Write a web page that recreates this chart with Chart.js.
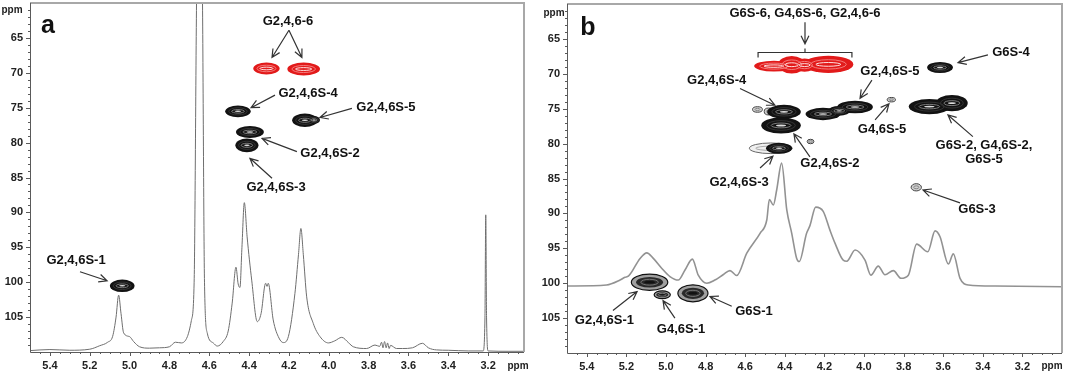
<!DOCTYPE html>
<html>
<head>
<meta charset="utf-8">
<script src="https://cdn.jsdelivr.net/npm/chart.js@4.4.1/dist/chart.umd.min.js"></script>
<style>
  html, body { margin: 0; padding: 0; background: #fff; }
  #wrap { position: relative; width: 1065px; height: 374px; }
  canvas { position: absolute; top: 0; }
  #cA { left: 0; }
  #cB { left: 532px; }
</style>
</head>
<body>
<div id="wrap">
  <canvas id="cA" width="532" height="374"></canvas>
  <canvas id="cB" width="533" height="374"></canvas>
</div>
<script>
/* --------- 軸の目盛り --------- */
const xTicks = [5.4, 5.2, 5.0, 4.8, 4.6, 4.4, 4.2, 4.0, 3.8, 3.6, 3.4, 3.2];
const yTicks = [65, 70, 75, 80, 85, 90, 95, 100, 105];

/* --------- パネル a : 1H スペクトル (ppm / 相対強度) --------- */
const specA_ppm = [5.50, 5.40, 5.30, 5.20, 5.15, 5.11, 5.085, 5.068, 5.055, 5.043, 5.03, 5.00, 4.98, 4.95, 4.90,
  4.85, 4.80, 4.77, 4.74, 4.71, 4.69, 4.676, 4.664, 4.649, 4.634, 4.624, 4.61, 4.58, 4.56, 4.53, 4.505, 4.485,
  4.466, 4.455, 4.446, 4.436, 4.424, 4.41, 4.387, 4.359, 4.34, 4.317, 4.31, 4.304, 4.279, 4.25, 4.228, 4.203,
  4.17, 4.152, 4.14, 4.128, 4.111, 4.078, 4.044, 4.002, 3.97, 3.935, 3.90, 3.877, 3.81, 3.768, 3.745, 3.735,
  3.728, 3.72, 3.712, 3.705, 3.697, 3.69, 3.66, 3.63, 3.58, 3.53, 3.50, 3.46, 3.40, 3.30, 3.225, 3.216, 3.212,
  3.208, 3.20, 3.10, 3.02];
const specA_int = [0.4, 0.7, 0.5, 0.8, 1.8, 2.8, 4.5, 10, 16.3, 11, 5.5, 4.4, 3.0, 1.5, 1.1,
  1.2, 1.5, 2.8, 2.6, 4.4, 9, 20, 100, 170, 100, 20, 5.4, 2.6, 1.7, 3.0, 6, 14,
  24.3, 19.5, 18.5, 30, 42.8, 33, 20.6, 8.7, 11, 19.7, 18.8, 19.7, 9.2, 4, 2.7, 4.4,
  16.8, 28, 35.4, 28, 15.8, 8.2, 4.4, 2.6, 3.2, 4.2, 2.6, 1.5, 1.0, 2.0, 1.6, 2.8,
  1.2, 3.0, 1.2, 2.6, 1.0, 1.9, 1.0, 1.0, 1.2, 2.5, 1.2, 0.6, 0.5, 0.3, 0.3, 10, 39.3,
  10, 0.3, 0.2, 0.2];

/* --------- パネル b : 1H スペクトル --------- */
const specB_ppm = [5.50, 5.30, 5.232, 5.207, 5.19, 5.131, 5.097, 5.064, 5.022, 4.98, 4.938, 4.904, 4.867, 4.837,
  4.794, 4.753, 4.71, 4.677, 4.643, 4.592, 4.525, 4.491, 4.478, 4.458, 4.441, 4.416, 4.39, 4.365, 4.34, 4.327,
  4.29, 4.273, 4.244, 4.206, 4.172, 4.146, 4.105, 4.087, 4.045, 3.995, 3.965, 3.928, 3.894, 3.852, 3.813,
  3.776, 3.734, 3.678, 3.641, 3.616, 3.574, 3.549, 3.515, 3.473, 3.338, 3.0];
const specB_int = [19.2, 19.5, 20.9, 21.7, 22.0, 27.1, 28.7, 27.1, 24.3, 21.9, 20.9, 23.8, 26.9, 22.3,
  20.0, 20.9, 22.5, 23.6, 22.2, 28.6, 34.3, 38.1, 44.0, 42.4, 46.7, 54.4, 41, 34.3, 27.1, 26.2,
  34.3, 36.5, 41.8, 40.6, 35.2, 31.4, 26.6, 26.3, 29.5, 26.6, 22.3, 24.9, 22.4, 23.6, 21.4,
  22.3, 31.2, 29.0, 35.0, 33.3, 25.5, 28.4, 21.4, 19.5, 19.2, 19.0];

/* --------- 2D 相関ピーク (1H ppm, 13C ppm, 半幅 H, 半幅 C, 種別) --------- */
const peakA_h    = [4.313, 4.126, 4.456, 4.120, 4.074, 4.396, 4.411, 5.037];
const peakA_c    = [69.38, 69.46, 75.52, 76.80, 76.75, 78.48, 80.39, 100.52];
const peakA_wh   = [0.066, 0.082, 0.064, 0.064, 0.030, 0.070, 0.058, 0.062];
const peakA_wc   = [0.85, 0.92, 0.85, 0.98, 0.55, 0.85, 0.98, 0.90];
const peakA_type = ["ch2", "ch2", "ch", "ch", "ch", "ch", "ch", "ch"];

const peakB_h    = [4.538, 4.482, 4.471, 4.270, 3.862, 3.736,
  4.455, 4.365, 4.300, 4.180,
  4.404, 4.419, 4.429, 4.207, 4.125, 4.045, 3.670, 3.556, 3.616,
  5.083, 5.019, 4.864];
const peakB_c    = [75.11, 75.40, 80.67, 79.70, 73.71, 86.26,
  68.90, 68.70, 68.75, 68.65,
  75.45, 77.40, 80.67, 75.76, 75.30, 74.76, 74.70, 74.20, 69.10,
  99.86, 101.65, 101.45];
const peakB_wh   = [0.025, 0.022, 0.108, 0.017, 0.021, 0.026,
  0.100, 0.068, 0.055, 0.126,
  0.085, 0.100, 0.066, 0.088, 0.055, 0.090, 0.104, 0.080, 0.065,
  0.092, 0.041, 0.076];
const peakB_wc   = [0.40, 0.50, 0.76, 0.32, 0.32, 0.52,
  0.78, 1.25, 0.95, 1.22,
  1.00, 1.15, 0.78, 0.88, 0.70, 0.90, 1.08, 1.18, 0.80,
  1.16, 0.56, 1.22];
const peakB_type = ["weak", "weak", "pale", "weak", "weak", "weak",
  "ch2", "ch2", "ch2", "ch2",
  "ch", "ch", "ch", "ch", "ch", "ch", "ch", "ch", "ch",
  "ring", "ring", "ring"];

/* --------- 帰属ラベル (ラベル中心の 1H / 13C 位置) --------- */
const notesA = [
  { text: "G2,4,6-6", h: 4.205, c: 62.6 },
  { text: "G2,4,6S-4", h: 4.104, c: 72.9 },
  { text: "G2,4,6S-5", h: 3.713, c: 75.0 },
  { text: "G2,4,6S-2", h: 3.994, c: 81.6 },
  { text: "G2,4,6S-3", h: 4.265, c: 86.4 },
  { text: "G2,4,6S-1", h: 5.269, c: 96.9 },
];
const arrowsA = [
  [4.20, 63.9, 4.285, 67.8],
  [4.20, 63.9, 4.135, 67.8],
  [4.27, 73.2, 4.39, 75.0],
  [3.884, 75.1, 4.044, 76.4],
  [4.16, 81.3, 4.335, 79.4],
  [4.285, 85.1, 4.396, 82.25],
  [5.249, 98.5, 5.113, 99.8],
];

const notesB = [
  { text: "G6S-6, G4,6S-6, G2,4,6-6", h: 4.298, c: 61.3 },
  { text: "G2,4,6S-4", h: 4.744, c: 71.0 },
  { text: "G2,4,6S-5", h: 3.869, c: 69.6 },
  { text: "G6S-4", h: 3.258, c: 67.0 },
  { text: "G4,6S-5", h: 3.909, c: 77.9 },
  { text: "G6S-2, G4,6S-2,", h: 3.394, c: 80.3 },
  { text: "G6S-5", h: 3.394, c: 82.3 },
  { text: "G2,4,6S-2", h: 4.172, c: 82.8 },
  { text: "G2,4,6S-3", h: 4.631, c: 85.5 },
  { text: "G6S-3", h: 3.429, c: 89.5 },
  { text: "G2,4,6S-1", h: 5.311, c: 105.4 },
  { text: "G4,6S-1", h: 4.924, c: 106.6 },
  { text: "G6S-1", h: 4.556, c: 104.05 },
];
const arrowsB = [
  [4.298, 62.6, 4.298, 65.7],
  [4.626, 72.1, 4.45, 74.5],
  [3.96, 70.9, 4.02, 73.5],
  [3.374, 67.3, 3.525, 68.4],
  [3.944, 76.6, 3.874, 74.3],
  [3.45, 79.0, 3.576, 75.9],
  [4.273, 81.9, 4.354, 78.6],
  [4.525, 83.5, 4.46, 81.8],
  [3.515, 88.5, 3.702, 86.65],
  [5.268, 103.9, 5.146, 101.2],
  [4.955, 105.0, 5.015, 102.5],
  [4.668, 103.3, 4.778, 101.9],
];
// CH2 ブラケット: H 左端, H 右端, C 位置
const bracketB = [4.535, 4.061, 66.9];

/* --------- 描画ヘルパー --------- */
const FONT = '"Liberation Sans", Arial, sans-serif';

function ell(ctx, x, y, rx, ry) {
  ctx.beginPath();
  ctx.ellipse(x, y, Math.max(rx, 0.5), Math.max(ry, 0.5), 0, 0, Math.PI * 2);
}

// 種別ごとの塗り
const peakLayers = {
  ch2: (ctx, x, y, rx, ry) => {
    ctx.fillStyle = "#e21a1a"; ell(ctx, x, y, rx, ry); ctx.fill();
  },
  ch: (ctx, x, y, rx, ry) => {
    ctx.fillStyle = "#121212"; ell(ctx, x, y, rx, ry); ctx.fill();
  },
  ring: (ctx, x, y, rx, ry) => {
    ctx.fillStyle = "#a0a0a0"; ell(ctx, x, y, rx, ry); ctx.fill();
    ctx.strokeStyle = "#111"; ctx.lineWidth = 1.2; ctx.stroke();
    ctx.fillStyle = "#2a2a2a"; ell(ctx, x, y, rx * 0.74, ry * 0.66); ctx.fill();
    ctx.strokeStyle = "#777"; ctx.lineWidth = 1; ell(ctx, x, y, rx * 0.48, ry * 0.36); ctx.stroke();
    ctx.fillStyle = "#111"; ell(ctx, x, y, rx * 0.3, ry * 0.15); ctx.fill();
  },
  weak: (ctx, x, y, rx, ry) => {
    ctx.fillStyle = "#cfcfcf"; ell(ctx, x, y, rx, ry); ctx.fill();
    ctx.strokeStyle = "#444"; ctx.lineWidth = 1; ctx.stroke();
    ctx.strokeStyle = "#888"; ell(ctx, x, y, rx * 0.5, ry * 0.4); ctx.stroke();
  },
  pale: (ctx, x, y, rx, ry) => {
    ctx.fillStyle = "#f0f0f0"; ell(ctx, x, y, rx, ry); ctx.fill();
    ctx.strokeStyle = "#666"; ctx.lineWidth = 1; ctx.stroke();
    ctx.strokeStyle = "#aaa"; ell(ctx, x, y, rx * 0.7, ry * 0.4); ctx.stroke();
  },
};

// 内側の等高線 (塗りの後にまとめて描く)
function drawInner(ctx, x, y, rx, ry, type) {
  if (type === "ch2") {
    ctx.strokeStyle = "#f47a7a"; ctx.lineWidth = 1; ell(ctx, x, y, rx * 0.72, ry * 0.55); ctx.stroke();
    ctx.strokeStyle = "#ffe0e0"; ell(ctx, x, y, rx * 0.5, ry * 0.22); ctx.stroke();
  } else if (type === "ch") {
    ctx.strokeStyle = "#333"; ctx.lineWidth = 1; ell(ctx, x, y, rx * 0.72, ry * 0.6); ctx.stroke();
    ctx.strokeStyle = "#7a7a7a"; ell(ctx, x, y, rx * 0.5, ry * 0.3); ctx.stroke();
    ctx.fillStyle = "#dcdcdc"; ell(ctx, x, y, rx * 0.25, ry * 0.12); ctx.fill();
  }
}

function drawArrow(ctx, x1, y1, x2, y2) {
  const a = Math.atan2(y2 - y1, x2 - x1);
  const L = 9, s = 0.45;
  ctx.beginPath();
  ctx.moveTo(x1, y1); ctx.lineTo(x2, y2);
  ctx.moveTo(x2 - L * Math.cos(a - s), y2 - L * Math.sin(a - s));
  ctx.lineTo(x2, y2);
  ctx.lineTo(x2 - L * Math.cos(a + s), y2 - L * Math.sin(a + s));
  ctx.stroke();
}

/* --------- オーバーレイ (枠・目盛り・ピーク・ラベル) --------- */
function makeOverlay(cfg) {
  return {
    id: "hsqcOverlay",
    afterDatasetsDraw(chart) {
      const { ctx, chartArea: ca, scales } = chart;
      const sx = scales.x, sy = scales.y;
      const px = (v) => sx.getPixelForValue(v);
      const py = (v) => sy.getPixelForValue(v);
      ctx.save();

      // 枠
      ctx.strokeStyle = "#a8a8a8"; ctx.lineWidth = 2;
      ctx.beginPath();
      ctx.moveTo(ca.left, ca.top); ctx.lineTo(ca.right, ca.top); ctx.lineTo(ca.right, ca.bottom);
      ctx.stroke();
      ctx.strokeStyle = "#5a5a5a"; ctx.lineWidth = 1;
      ctx.beginPath();
      ctx.moveTo(ca.left + 0.5, ca.top); ctx.lineTo(ca.left + 0.5, ca.bottom + 0.5); ctx.lineTo(ca.right, ca.bottom + 0.5);
      ctx.stroke();

      // 目盛り線
      ctx.beginPath();
      for (let c = 61; c < 110; c++) {
        const len = c % 5 === 0 ? 4 : 2;
        const y = Math.round(py(c)) + 0.5;
        ctx.moveTo(ca.left, y); ctx.lineTo(ca.left - len, y);
      }
      for (let k = 1; k <= 50; k++) {
        const h = 5.5 - k * 0.05;
        if (h <= sx.min) break;
        const len = k % 4 === 2 ? 4 : 2;
        const x = Math.round(px(h)) + 0.5;
        ctx.moveTo(x, ca.bottom); ctx.lineTo(x, ca.bottom + len);
      }
      ctx.stroke();

      // 2D ピーク: 外形を先に、内側の等高線を後に
      const geo = cfg.ph.map((h, i) => {
        const x = px(h), y = py(cfg.pc[i]);
        return [x, y, Math.abs(px(h + cfg.wh[i]) - x), Math.abs(py(cfg.pc[i] + cfg.wc[i]) - y), cfg.pt[i]];
      });
      geo.forEach((g) => { ctx.save(); peakLayers[g[4]](ctx, g[0], g[1], g[2], g[3]); ctx.restore(); });
      geo.forEach((g) => { ctx.save(); drawInner(ctx, g[0], g[1], g[2], g[3], g[4]); ctx.restore(); });

      // 矢印
      ctx.strokeStyle = "#333"; ctx.lineWidth = 1.2;
      cfg.arrows.forEach((a) => drawArrow(ctx, px(a[0]), py(a[1]), px(a[2]), py(a[3])));
      if (cfg.bracket) {
        const [h1, h2, c] = cfg.bracket;
        const y = Math.round(py(c)) + 0.5, x1 = px(h1), x2 = px(h2), xm = (x1 + x2) / 2;
        ctx.beginPath();
        ctx.moveTo(x1, y + 5); ctx.lineTo(x1, y); ctx.lineTo(x2, y); ctx.lineTo(x2, y + 5);
        ctx.moveTo(xm, y); ctx.lineTo(xm, y - 4);
        ctx.stroke();
      }

      // ラベル
      ctx.fillStyle = "#111";
      ctx.textAlign = "center"; ctx.textBaseline = "middle";
      ctx.font = "bold 13px " + FONT;
      cfg.notes.forEach((n) => ctx.fillText(n.text, px(n.h), py(n.c)));
      ctx.font = "bold 25px " + FONT;
      ctx.fillText(cfg.letter, px(cfg.letterAt[0]), py(cfg.letterAt[1]));

      // 軸単位
      ctx.font = "bold 10px " + FONT;
      ctx.fillStyle = "#222";
      ctx.fillText("ppm", ca.left + cfg.ppmTop[0], ca.top + cfg.ppmTop[1]);
      ctx.fillText("ppm", ca.right + cfg.ppmBot[0], ca.bottom + cfg.ppmBot[1]);
      ctx.restore();
    },
  };
}

/* --------- チャート生成 --------- */
function zeroPad(s) {
  s.paddingTop = 0; s.paddingBottom = 0; s.paddingLeft = 0; s.paddingRight = 0;
}

function makeChart(id, cfg) {
  const tickFont = { family: FONT, size: 11, weight: "bold" };
  return new Chart(document.getElementById(id), {
    type: "line",
    data: {
      datasets: [{
        data: cfg.ppm.map((p, i) => ({ x: p, y: cfg.inten[i] })),
        yAxisID: "yI",
        borderColor: cfg.lineColor,
        borderWidth: cfg.lineWidth,
        pointRadius: 0,
        cubicInterpolationMode: "monotone",
        fill: false,
      }],
    },
    options: {
      responsive: false,
      animation: false,
      devicePixelRatio: 1,
      layout: { padding: cfg.pad },
      plugins: { legend: { display: false }, tooltip: { enabled: false } },
      scales: {
        x: {
          type: "linear", reverse: true, min: cfg.xmin, max: 5.5,
          grid: { display: false, drawTicks: false }, border: { display: false },
          afterBuildTicks: (s) => { s.ticks = xTicks.map((v) => ({ value: v })); },
          afterFit: (s) => { s.height = cfg.xh; zeroPad(s); },
          ticks: { font: tickFont, color: "#222", padding: 7, maxRotation: 0, autoSkip: false,
                   callback: (v) => Number(v).toFixed(1) },
        },
        y: {
          type: "linear", reverse: true, min: 60, max: 110,
          grid: { display: false, drawTicks: false }, border: { display: false },
          afterBuildTicks: (s) => { s.ticks = yTicks.map((v) => ({ value: v })); },
          afterFit: (s) => { s.width = cfg.yw; zeroPad(s); },
          ticks: { font: tickFont, color: "#222", padding: 7, autoSkip: false,
                   callback: (v) => String(v) },
        },
        yI: { display: false, min: 0, max: 100 },
      },
    },
    plugins: [makeOverlay(cfg)],
  });
}

window.addEventListener("DOMContentLoaded", () => {
  makeChart("cA", {
    ppm: specA_ppm, inten: specA_int, lineColor: "#6e6e6e", lineWidth: 1,
    xmin: 3.02, pad: { top: 3, right: 8, left: 0, bottom: 0 }, xh: 22, yw: 30,
    ph: peakA_h, pc: peakA_c, wh: peakA_wh, wc: peakA_wc, pt: peakA_type,
    notes: notesA, arrows: arrowsA, bracket: null,
    letter: "a", letterAt: [5.41, 63.3],
    ppmTop: [-18, 7], ppmBot: [-6, 14],
  });
  makeChart("cB", {
    ppm: specB_ppm, inten: specB_int, lineColor: "#929292", lineWidth: 1.6,
    xmin: 3.0, pad: { top: 4, right: 3, left: 0, bottom: 0 }, xh: 21, yw: 35,
    ph: peakB_h, pc: peakB_c, wh: peakB_wh, wc: peakB_wc, pt: peakB_type,
    notes: notesB, arrows: arrowsB, bracket: bracketB,
    letter: "b", letterAt: [5.394, 63.44],
    ppmTop: [-13, 9], ppmBot: [-10, 13],
  });
});
</script>
</body>
</html>
